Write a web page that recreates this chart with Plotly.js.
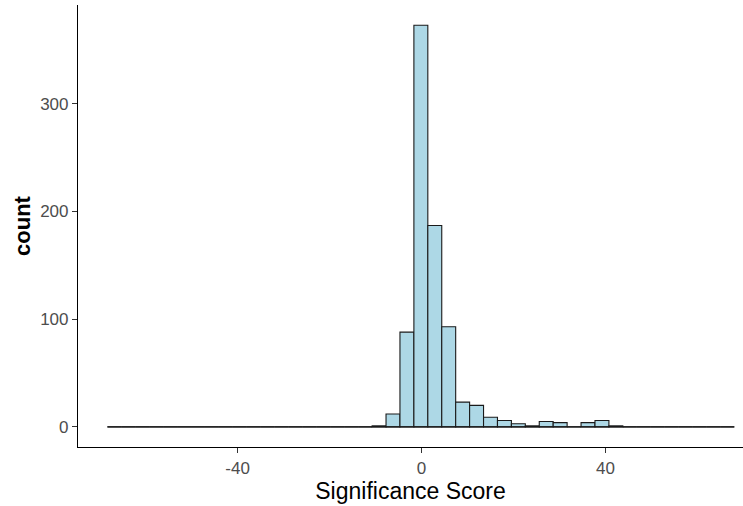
<!DOCTYPE html>
<html>
<head>
<meta charset="utf-8">
<script src="https://cdn.plot.ly/plotly-3.0.1.min.js"></script>
<style>html,body{margin:0;padding:0;background:#fff;}#chart{width:743px;height:506px;}</style>
</head>
<body>
<div id="chart"></div>
<script>
// Histogram bins
const binStart = -68.3;
const binWidth = 3.029;
const counts = [
  0,0,0,0,0,0,0,0,0,0,
  0,0,0,0,0,0,0,0,0,1,
  12,88,373,187,93,23,20,9,6,3,
  1,5,4,0,4,6,1,0,0,0,
  0,0,0,0,0
];
const xTickVals = [-40, 0, 40];
const yTickVals = [0, 100, 200, 300];

const centers = counts.map((c, i) => binStart + binWidth * (i + 0.5));
const binEnd = binStart + binWidth * counts.length;

const bars = {
  type: 'bar',
  x: centers,
  y: counts,
  width: binWidth,
  marker: {color: '#ADD8E6', line: {color: '#1a1a1a', width: 1.1}},
  hoverinfo: 'x+y',
  showlegend: false
};
const baseline = {
  type: 'scatter', mode: 'lines',
  x: [binStart, binEnd], y: [0, 0],
  line: {color: '#1a1a1a', width: 1.1},
  hoverinfo: 'skip', showlegend: false
};

const layout = {
  width: 743, height: 506,
  margin: {l: 78, r: 0, t: 5, b: 59},
  paper_bgcolor: '#fff', plot_bgcolor: '#fff',
  font: {family: 'Liberation Sans, Arial, sans-serif'},
  bargap: 0,
  xaxis: {
    range: [-74.7, 69.9],
    tickvals: xTickVals, ticktext: xTickVals.map(String),
    showgrid: false, zeroline: false,
    showline: true, linecolor: '#000', linewidth: 1.1,
    ticks: 'outside', ticklen: 5, tickcolor: '#333', tickwidth: 1.1,
    tickfont: {size: 17, color: '#4D4D4D'},
    title: {text: 'Significance Score', font: {size: 23, color: '#000'}, standoff: 6}
  },
  yaxis: {
    range: [-18.65, 391.8],
    tickvals: yTickVals, ticktext: yTickVals.map(String),
    showgrid: false, zeroline: false,
    showline: true, linecolor: '#000', linewidth: 1.1,
    ticks: 'outside', ticklen: 5, tickcolor: '#333', tickwidth: 1.1,
    tickfont: {size: 17, color: '#4D4D4D'},
    title: {text: '<b>count</b>', font: {size: 22, color: '#000'}, standoff: 3}
  }
};

Plotly.newPlot('chart', [baseline, bars], layout, {displayModeBar: false, staticPlot: true});
</script>
</body>
</html>
